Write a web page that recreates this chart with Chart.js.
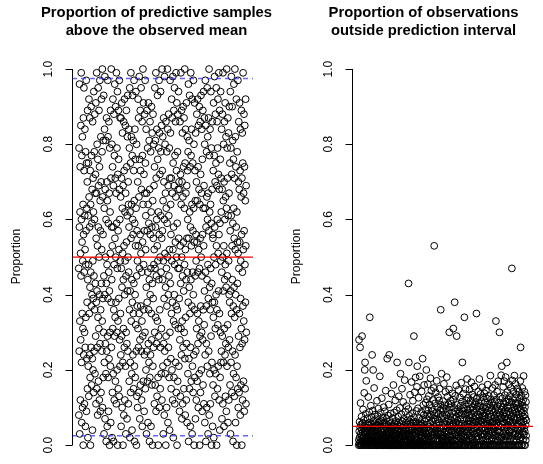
<!DOCTYPE html>
<html>
<head>
<meta charset="utf-8">
<script src="https://cdn.jsdelivr.net/npm/chart.js@4.4.0/dist/chart.umd.min.js"></script>
<style>
    html, body { margin: 0; padding: 0; background: #fff; }
    #wrap { position: relative; width: 543px; height: 464px; }
    #wrap canvas { position: absolute; left: 0; top: 0; }
</style>
</head>
<body>
<div id="wrap">
    <canvas id="leftChart" width="543" height="464"></canvas>
    <canvas id="rightChart" width="543" height="464"></canvas>
</div>
<script>
// Panel 1: proportion of predictive samples above the observed mean (in %, one per observation)
const aboveMeanPct = [
    47,8,79,25,58,96,3,33,62,74,12,51,28,85,45,99,60,22,6,77,54,35,82,10,49,31,64,0,87,56,24,95,73,46,11,30,61,84,52,26,5,78,48,34,57,97,9,75,63,23,
    38,70,15,89,44,2,61,21,75,48,13,92,66,35,24,58,87,42,18,73,0,64,46,26,90,37,77,16,59,40,68,23,4,86,49,20,71,39,62,14,94,45,25,78,60,36,88,19,67,43,
    72,29,91,11,55,38,67,99,15,41,80,26,53,8,76,34,95,58,17,69,31,89,50,12,74,40,97,27,65,9,57,36,82,14,70,43,92,52,25,78,33,100,10,66,39,56,18,81,30,93,
    45,3,63,22,84,40,98,7,68,27,50,81,19,60,1,43,87,25,70,48,5,65,29,97,39,82,18,59,9,46,86,23,67,41,0,79,30,62,51,21,89,6,71,38,100,26,58,44,80,2,
    53,14,74,31,92,58,19,69,1,36,88,48,12,77,29,96,55,34,71,17,90,50,38,67,11,99,59,30,79,20,47,94,0,72,33,57,15,89,76,39,52,13,97,68,28,60,21,87,49,35,
    66,24,87,5,47,71,29,91,42,10,63,83,51,22,0,69,44,31,86,8,53,73,26,92,40,12,62,49,85,21,67,3,45,30,89,54,74,27,7,61,82,41,93,25,50,70,11,64,46,84,
    58,17,79,36,95,2,62,41,22,75,14,99,55,33,82,64,19,44,4,77,38,93,60,24,56,81,35,15,73,43,97,65,21,1,59,84,40,18,76,53,32,94,63,25,0,80,45,13,57,37,
    49,10,70,31,92,53,26,87,14,66,35,98,47,76,7,28,56,89,16,73,37,51,95,25,68,12,46,33,86,5,77,54,29,100,64,17,91,48,36,72,9,57,24,88,67,30,97,15,75,52,
    61,20,84,42,3,67,25,89,38,57,17,79,46,6,64,27,91,36,59,22,81,44,1,68,18,86,40,56,24,78,47,5,62,35,90,28,58,16,83,43,0,65,21,88,39,55,26,80,48,69,
    52,11,74,30,95,47,16,81,58,34,99,9,71,45,27,60,84,13,53,33,93,76,49,18,0,62,29,79,44,97,56,10,83,36,72,50,15,26,94,61,78,46,19,31,85,55,12,100,73,57,
    44,82,21,65,3,49,87,27,70,39,8,60,98,25,51,80,19,67,42,0,86,29,63,47,10,78,37,59,22,100,50,84,6,69,40,26,88,61,45,18,79,52,4,71,30,97,43,83,64,23,
    56,15,71,35,92,49,20,87,67,38,12,98,52,75,2,33,58,89,18,69,40,95,48,11,77,32,54,86,22,66,99,37,14,73,50,91,0,59,36,78,17,88,47,68,31,94,55,21,70,39,
    47,9,68,28,86,53,13,72,43,99,31,64,24,89,50,7,70,33,83,45,11,66,26,90,54,74,41,15,87,30,63,48,100,23,75,8,52,84,34,67,44,12,91,27,69,55,6,82,46,73,
    60,19,78,38,96,1,55,23,81,42,15,93,62,35,74,5,58,26,99,44,77,17,53,84,37,64,3,92,21,46,75,57,14,40,97,63,24,80,0,54,36,91,18,73,45,65,7,83,25,56,
    49,12,70,31,88,54,17,65,35,92,46,27,74,10,85,52,33,68,19,90,47,0,64,29,86,55,14,72,37,93,50,20,67,30,84,45,9,76,56,28,89,16,63,36,94,53,11,69,32,87,
    41,80,6,63,24,97,46,85,1,58,37,27,78,10,66,44,95,21,60,82,48,3,67,39,87,25,57,100,8,77,42,62,19,84,36,11,64,47,94,29,59,79,0,43,22,68,86,38,5,56,
    55,16,73,34,91,2,50,20,77,38,98,58,13,70,31,88,48,19,75,40,95,53,0,69,36,86,60,15,79,32,92,51,21,72,41,99,56,12,68,35,89,4,59,18,76,30,94,49,22,71,
    62,25,84,46,7,68,29,88,50,11,99,41,65,22,80,53,5,70,31,86,44,60,24,91,48,13,66,27,82,42,9,63,100,51,21,79,45,71,32,87,6,61,26,83,49,12,67,40,90,28,
    38,75,16,57,94,3,41,79,22,61,98,35,72,14,53,90,44,25,81,59,1,37,76,19,63,96,42,55,13,71,34,100,24,52,82,6,40,74,18,58,92,36,0,62,21,78,43,54,15,97,
    51,10,70,29,86,47,14,68,35,91,54,26,73,8,84,39,49,16,66,31,89,56,0,71,27,83,46,12,75,37,99,52,17,67,33,88,57,9,74,28,85,48,15,65,38,92,53,11,69,30
];

// Panel 2: proportion of observations outside the prediction interval (in per mille)
const outsidePermille = [
    0,14,280,37,5,62,21,0,260,48,9,112,30,0,55,17,3,76,41,26,290,0,12,58,33,8,95,19,44,2,67,24,0,139,51,11,200,35,220,6,28,0,83,46,15,171,39,4,22,57,
    33,0,18,71,9,46,25,128,3,52,14,0,38,88,21,60,340,7,29,0,43,16,105,31,0,55,11,74,37,2,240,20,49,0,92,27,200,13,64,6,40,0,152,23,58,10,35,81,0,19,
    12,47,0,26,69,5,31,0,54,118,20,8,42,0,77,16,36,97,3,59,24,0,45,13,63,30,183,7,39,0,51,86,18,28,0,66,10,41,125,4,34,0,57,22,73,15,0,44,9,101,
    27,0,61,14,38,4,90,22,0,49,11,145,32,0,56,19,70,2,43,25,230,8,0,36,79,15,53,0,29,108,6,40,240,21,0,65,33,12,47,0,84,18,59,3,26,137,0,37,50,10,
    45,13,0,72,29,6,51,160,20,0,38,87,11,0,58,24,42,4,119,31,0,17,64,35,9,0,48,93,27,220,14,0,55,39,2,76,21,0,44,130,16,61,0,33,8,99,26,50,0,190,
    19,56,0,34,11,82,41,0,150,27,5,63,23,0,47,115,14,36,0,70,30,9,52,0,173,18,43,2,89,25,0,60,38,12,0,104,46,22,7,0,66,31,15,54,0,28,96,430,40,220,
    0,24,78,45,10,0,134,32,57,4,21,0,69,39,14,168,0,50,28,85,7,42,0,118,26,60,3,0,35,290,74,17,0,48,141,22,0,62,11,180,31,0,53,19,91,6,44,155,0,210,
    13,40,0,98,23,58,0,126,35,6,72,18,0,47,183,29,0,61,10,37,52,0,88,25,4,143,41,0,68,20,33,230,0,56,15,107,38,0,80,27,160,9,45,0,64,21,0,94,34,113,
    29,71,0,200,46,12,0,122,24,83,5,55,162,31,0,92,16,49,131,0,38,0,75,108,22,8,59,0,178,42,14,81,27,145,0,36,99,19,63,0,90,30,0,120,51,11,70,0,152,43,
    530,21,79,0,48,111,33,0,67,140,39,0,87,15,57,171,0,26,101,44,0,69,12,128,37,0,82,30,0,119,60,17,150,0,46,3,93,35,108,360,28,0,72,9,190,19,52,98,0,13,
    78,25,0,117,45,7,91,18,163,34,0,59,106,22,0,71,14,142,50,0,97,36,11,80,0,181,28,62,0,129,47,16,88,0,38,109,4,68,24,148,300,55,0,100,41,13,77,0,118,49,
    20,66,0,110,37,8,86,24,138,51,0,74,15,121,310,58,0,39,99,27,70,0,380,48,12,131,0,89,33,60,0,159,26,76,290,17,107,44,0,65,35,0,96,23,57,147,10,84,0,46,
    54,0,88,36,127,5,69,18,105,43,27,166,0,79,0,57,116,32,220,14,91,45,0,137,24,67,9,98,38,0,340,52,0,108,21,81,0,149,47,16,85,0,119,35,70,11,176,26,58,95,
    38,87,12,126,0,66,47,109,0,79,25,148,55,0,97,33,14,118,64,0,83,42,167,21,0,74,135,17,53,102,6,36,94,61,0,128,28,86,44,0,156,57,9,107,31,76,0,115,22,63,
    46,96,350,15,72,125,0,54,0,103,34,82,24,143,63,0,112,18,48,176,0,75,104,37,0,56,136,27,89,11,65,117,0,44,93,0,154,31,78,21,101,13,59,127,0,85,39,0,68,138,
    29,77,114,0,55,96,0,43,145,16,86,34,102,64,0,124,23,57,8,161,45,92,0,73,36,131,0,66,110,25,84,12,53,100,0,185,38,76,0,122,48,15,93,62,21,113,0,58,152,33,
    63,17,106,44,0,86,133,26,54,0,115,74,35,160,0,95,47,14,330,66,121,0,57,83,24,142,0,104,37,77,12,170,52,0,92,41,113,22,69,300,0,81,34,129,16,72,103,0,58,186,
    48,94,21,210,73,0,124,55,0,101,32,155,62,14,87,111,0,46,170,25,76,0,133,58,93,13,181,36,0,116,66,24,84,220,47,0,141,71,104,17,54,122,0,91,38,162,26,63,114,0,
    82,35,131,0,64,103,16,152,42,75,0,114,53,470,22,92,172,0,61,123,33,84,11,143,56,101,0,73,185,27,95,44,125,0,66,163,31,112,14,86,134,52,0,106,74,23,151,41,97,0,
    55,111,24,83,0,143,65,32,102,0,74,124,43,12,171,260,94,21,62,132,0,85,46,113,0,152,53,104,34,76,15,121,63,184,28,92,0,44,142,81,36,101,0,72,133,54,13,115,25,66
];

// Reference lines
const meanLine = [0.5];
const bandLines = [0.025, 0.975];
const expectedOutside = [0.05];

// Axis ticks
const yTicks = [0, 0.2, 0.4, 0.6, 0.8, 1.0];

const panelTitles = {
    left: ['Proportion of predictive samples', 'above the observed mean'],
    right: ['Proportion of observations', 'outside prediction interval']
};
const yAxisLabel = 'Proportion';

const FONT = '"Liberation Sans", Arial, Helvetica, sans-serif';

// Draws R-style title, y axis with rotated labels
const rAxisPlugin = {
    id: 'rAxis',
    afterDraw(chart, args, opts) {
        const ctx = chart.ctx;
        const ys = chart.scales.y;
        const area = chart.chartArea;
        const left = area.left;
        const midX = (area.left + area.right) / 2 + opts.titleShift;

        ctx.save();
        ctx.fillStyle = '#000';
        ctx.strokeStyle = '#000';

        // title
        ctx.font = 'bold 14.8px ' + FONT;
        ctx.textAlign = 'center';
        ctx.textBaseline = 'alphabetic';
        opts.title.forEach((line, i) => ctx.fillText(line, midX, 17 + i * 18));

        // axis line + ticks
        ctx.lineWidth = 1;
        ctx.beginPath();
        const ax = Math.round(left) + 0.5;
        ctx.moveTo(ax, ys.getPixelForValue(yTicks[0]));
        ctx.lineTo(ax, ys.getPixelForValue(yTicks[yTicks.length - 1]));
        yTicks.forEach(t => {
            const p = Math.round(ys.getPixelForValue(t)) + 0.5;
            ctx.moveTo(ax, p);
            ctx.lineTo(ax - 7, p);
        });
        ctx.stroke();

        // tick labels, rotated like R's las=0
        ctx.font = '12px ' + FONT;
        ctx.textBaseline = 'middle';
        yTicks.forEach(t => {
            ctx.save();
            ctx.translate(left - 23.5, ys.getPixelForValue(t));
            ctx.rotate(-Math.PI / 2);
            ctx.fillText(t.toFixed(1), 0, 0);
            ctx.restore();
        });

        // axis title
        ctx.save();
        ctx.translate(left - 55, (area.top + area.bottom) / 2);
        ctx.rotate(-Math.PI / 2);
        ctx.fillText(opts.ylabel, 0, 0);
        ctx.restore();

        ctx.restore();
    }
};

// Horizontal reference line as a 2-point line dataset spanning the x range
function hLine(value, xMin, xMax, color, dash, width) {
    return {
        type: 'line',
        data: [{ x: xMin, y: value }, { x: xMax, y: value }],
        borderColor: color,
        borderWidth: width,
        borderDash: dash,
        pointRadius: 0,
        fill: false
    };
}

function makePanel(canvasId, values, scaleDiv, lines, padding, title, titleShift) {
    const n = values.length;
    const xMin = 1 - 0.04 * (n - 1);
    const xMax = n + 0.04 * (n - 1);
    const points = values.map((v, i) => ({ x: i + 1, y: v / scaleDiv }));

    const datasets = lines.map(l => hLine(l.value, xMin, xMax, l.color, l.dash, l.width));
    datasets.push({
        type: 'scatter',
        data: points,
        pointStyle: 'circle',
        pointRadius: 3.4,
        pointBorderWidth: 1,
        pointBorderColor: '#000',
        pointBackgroundColor: 'rgba(0,0,0,0)',
        showLine: false
    });

    return new Chart(document.getElementById(canvasId), {
        type: 'scatter',
        data: { datasets },
        options: {
            responsive: false,
            animation: false,
            events: [],
            layout: { padding },
            scales: {
                x: { type: 'linear', min: xMin, max: xMax, display: false },
                y: { type: 'linear', min: -14 / 381, max: 1.04, display: false }
            },
            plugins: {
                legend: { display: false },
                tooltip: { enabled: false },
                rAxis: { title, ylabel: yAxisLabel, titleShift }
            }
        },
        plugins: [rAxisPlugin]
    });
}

makePanel('leftChart', aboveMeanPct, 100, [
    { value: meanLine[0], color: '#ff0000', dash: [], width: 1.2 },
    { value: bandLines[0], color: 'rgba(50,50,255,0.75)', dash: [5, 4], width: 1.5 },
    { value: bandLines[1], color: 'rgba(50,50,255,0.75)', dash: [5, 4], width: 1.5 }
], { left: 72, right: 290, top: 54, bottom: 0 }, panelTitles.left, -6);

makePanel('rightChart', outsidePermille, 1000, [
    { value: expectedOutside[0], color: '#ff0000', dash: [], width: 1.2 }
], { left: 352, right: 10, top: 54, bottom: 0 }, panelTitles.right, -19);
</script>
</body>
</html>
